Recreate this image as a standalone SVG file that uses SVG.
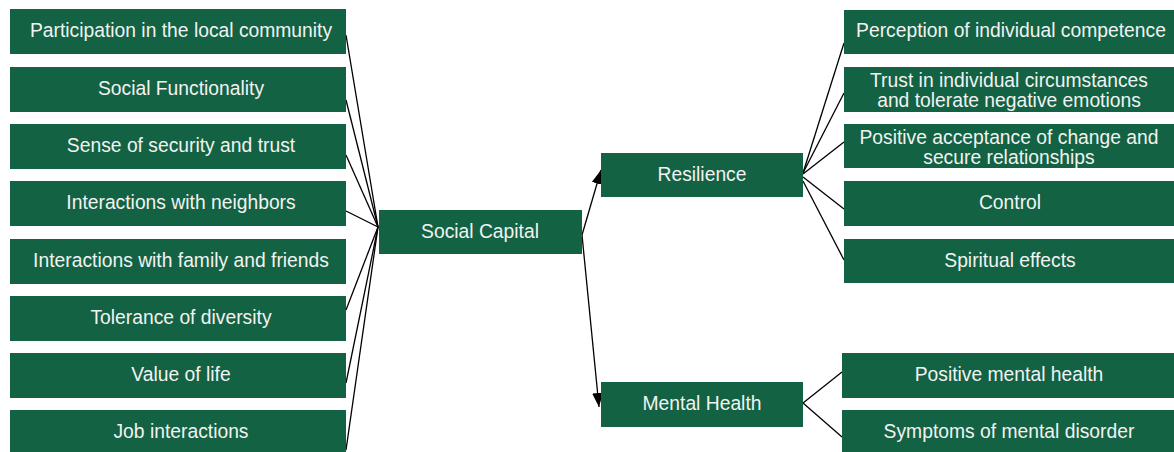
<svg xmlns="http://www.w3.org/2000/svg" width="1174" height="452" viewBox="0 0 1174 452">
<style>
.box{fill:#126243;}
.t{font-family:"Liberation Sans",Arial,sans-serif;font-size:19.3px;fill:#f2f2f2;text-anchor:middle;}
.c line{stroke:#000;stroke-width:1.3;}
</style>
<defs>
<marker id="ah" markerUnits="userSpaceOnUse" markerWidth="16" markerHeight="12" refX="14" refY="5.5" orient="auto">
<path d="M0,0 L14,5.5 L0,11 Z" fill="#000"/>
</marker>
</defs>
<rect width="1174" height="452" fill="#fff"/>
<g class="c" id="connectors">
<line x1="346" y1="35" x2="378" y2="227"/>
<line x1="346" y1="100" x2="378" y2="227"/>
<line x1="346" y1="155" x2="378" y2="227"/>
<line x1="346" y1="211" x2="378" y2="227"/>
<line x1="346" y1="310" x2="378" y2="227"/>
<line x1="346" y1="383" x2="378" y2="227"/>
<line x1="346" y1="450" x2="378" y2="227"/>
<line x1="582" y1="235" x2="601" y2="170" marker-end="url(#ah)"/>
<line x1="582" y1="235" x2="599" y2="407" marker-end="url(#ah)"/>
<line x1="803" y1="173" x2="844" y2="43"/>
<line x1="803" y1="173" x2="844" y2="93"/>
<line x1="803" y1="174" x2="844" y2="142"/>
<line x1="803" y1="177" x2="844" y2="209"/>
<line x1="803" y1="181" x2="844" y2="260"/>
<line x1="803" y1="403" x2="842" y2="372"/>
<line x1="803" y1="403" x2="842" y2="437"/>
</g>
<g id="n1"><rect class="box" x="10" y="9" width="336" height="45"/><text class="t" x="181" y="37">Participation in the local community</text></g>
<g id="n2"><rect class="box" x="10" y="67" width="336" height="45"/><text class="t" x="181" y="95">Social Functionality</text></g>
<g id="n3"><rect class="box" x="10" y="124" width="336" height="45"/><text class="t" x="181" y="152">Sense of security and trust</text></g>
<g id="n4"><rect class="box" x="10" y="181" width="336" height="45"/><text class="t" x="181" y="209">Interactions with neighbors</text></g>
<g id="n5"><rect class="box" x="10" y="239" width="336" height="45"/><text class="t" x="181" y="267">Interactions with family and friends</text></g>
<g id="n6"><rect class="box" x="10" y="296" width="336" height="45"/><text class="t" x="181" y="324">Tolerance of diversity</text></g>
<g id="n7"><rect class="box" x="10" y="353" width="336" height="45"/><text class="t" x="181" y="381">Value of life</text></g>
<g id="n8"><rect class="box" x="10" y="410" width="336" height="45"/><text class="t" x="181" y="438">Job interactions</text></g>
<g id="social"><rect class="box" x="379" y="210" width="203" height="44"/><text class="t" x="480" y="238">Social Capital</text></g>
<g id="resilience"><rect class="box" x="601" y="153" width="202" height="44"/><text class="t" x="702" y="181">Resilience</text></g>
<g id="mental"><rect class="box" x="601" y="382" width="202" height="45"/><text class="t" x="702" y="410">Mental Health</text></g>
<g id="r1"><rect class="box" x="844" y="10" width="330" height="44"/><text class="t" x="1011" y="37">Perception of individual competence</text></g>
<g id="r2"><rect class="box" x="844" y="67" width="330" height="45"/><text class="t" x="1009" y="87">Trust in individual circumstances</text><text class="t" x="1009" y="107">and tolerate negative emotions</text></g>
<g id="r3"><rect class="box" x="844" y="124" width="330" height="44"/><text class="t" x="1009" y="144">Positive acceptance of change and</text><text class="t" x="1009" y="164">secure relationships</text></g>
<g id="r4"><rect class="box" x="844" y="181" width="330" height="45"/><text class="t" x="1010" y="209">Control</text></g>
<g id="r5"><rect class="box" x="844" y="239" width="330" height="44"/><text class="t" x="1010" y="267">Spiritual effects</text></g>
<g id="m1"><rect class="box" x="842" y="353" width="332" height="45"/><text class="t" x="1009" y="381">Positive mental health</text></g>
<g id="m2"><rect class="box" x="842" y="410" width="332" height="45"/><text class="t" x="1009" y="438">Symptoms of mental disorder</text></g>
</svg>
